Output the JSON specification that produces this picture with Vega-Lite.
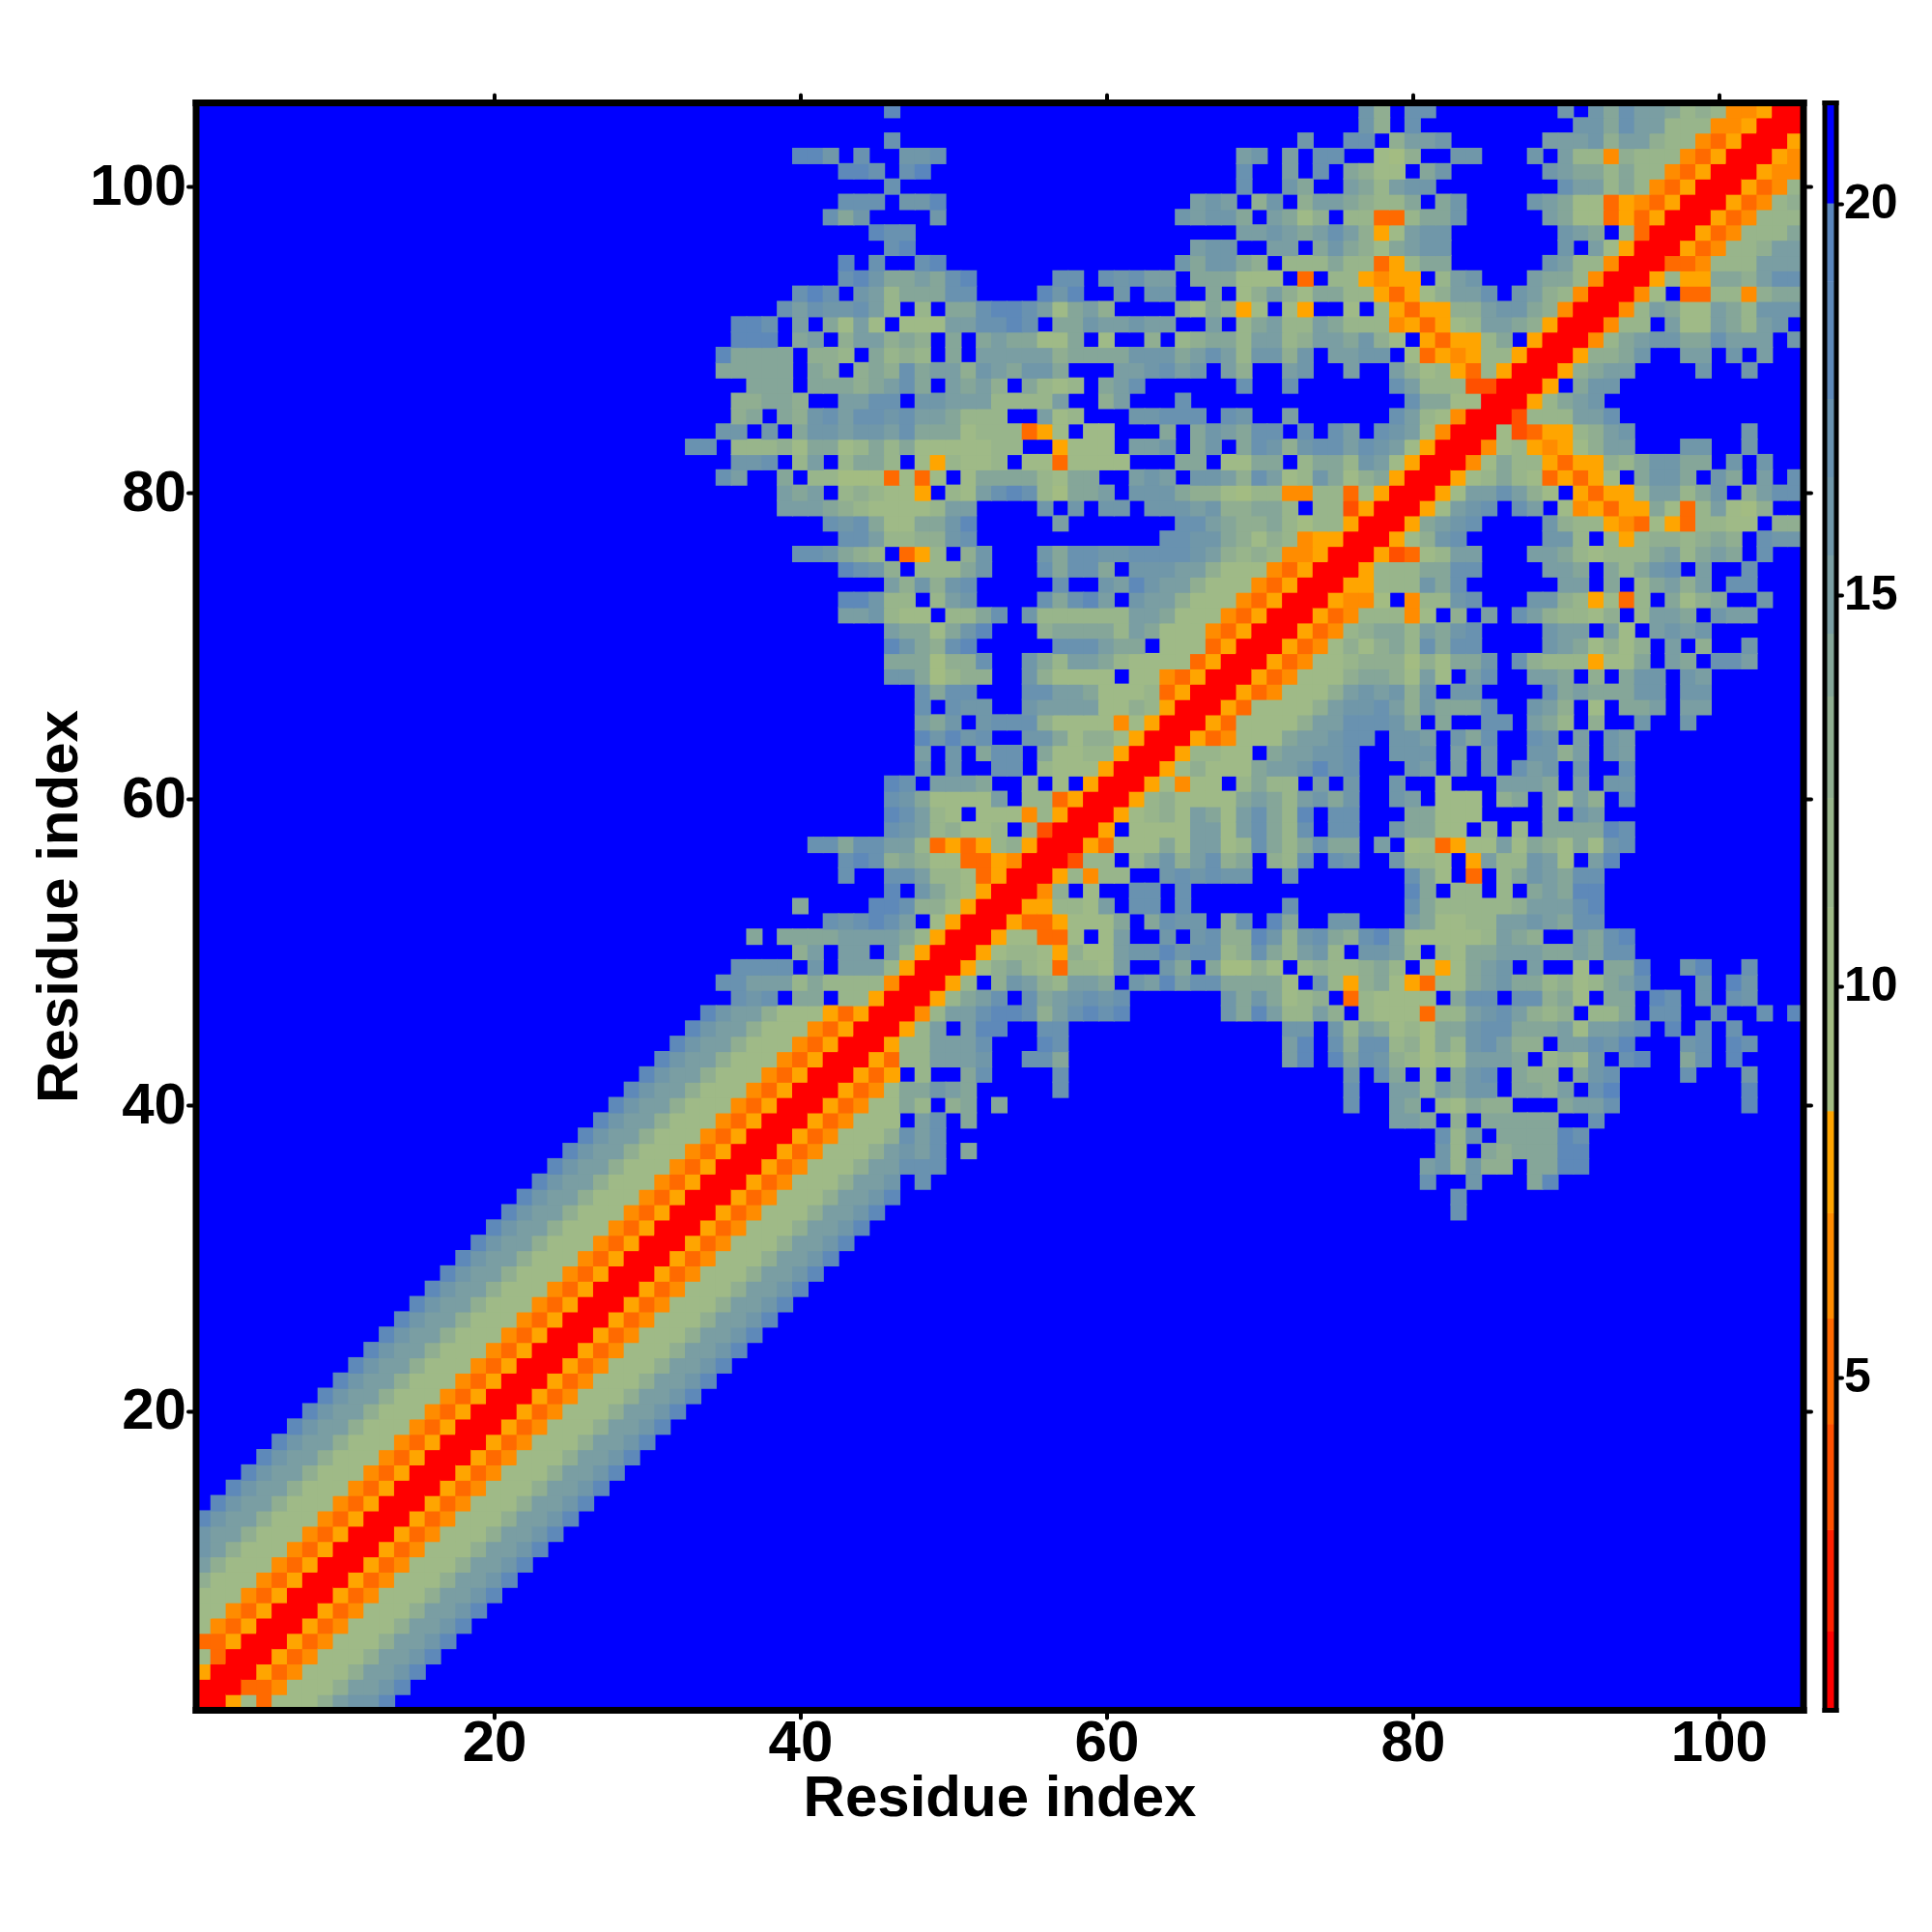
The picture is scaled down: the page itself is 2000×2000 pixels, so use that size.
{"$schema":"https://vega.github.io/schema/vega-lite/v6.json","background":"white","padding":{"left":30.5,"top":96,"right":0,"bottom":0},"spacing":12,"config":{"view":{"stroke":null},"axis":{"labelFont":"Liberation Sans","titleFont":"Liberation Sans","labelFontWeight":"bold","titleFontWeight":"bold","labelColor":"black","titleColor":"black","tickColor":"black","domainColor":"black","tickCap":"round","grid":false}},"hconcat":[{"width":1664,"height":1664,"view":{"fill":"#0000ff","stroke":null},"data":{"values":[
{"b":1,"a":[1],"v":[1]},
{"b":2,"a":[1,2],"v":[1,1]},
{"b":3,"a":[1,2,3],"v":[8,1,1]},
{"b":4,"a":[1,2,3,4],"v":[10,5,1,1]},
{"b":5,"a":[1,2,3,4,5],"v":[5,5,8,1,1]},
{"b":6,"a":[1,2,3,4,5,6],"v":[10,6,5,8,1,1]},
{"b":7,"a":[1,2,3,4,5,6,7],"v":[10,10,6,5,8,1,1]},
{"b":8,"a":[1,2,3,4,5,6,7,8],"v":[10,10,10,6,5,8,1,1]},
{"b":9,"a":[1,2,3,4,5,6,7,8,9],"v":[13,10,10,10,6,5,8,1,1]},
{"b":10,"a":[1,2,3,4,5,6,7,8,9,10],"v":[15,13,10,10,10,6,5,8,1,1]},
{"b":11,"a":[1,2,3,4,5,6,7,8,9,10,11],"v":[16,15,13,10,10,10,6,5,8,1,1]},
{"b":12,"a":[1,2,3,4,5,6,7,8,9,10,11,12],"v":[16,15,15,13,10,10,10,6,5,8,1,1]},
{"b":13,"a":[1,2,3,4,5,6,7,8,9,10,11,12,13],"v":[18,16,15,15,13,10,10,10,6,5,8,1,1]},
{"b":14,"a":[2,3,4,5,6,7,8,9,10,11,12,13,14],"v":[18,16,15,15,13,10,10,10,6,5,8,1,1]},
{"b":15,"a":[3,4,5,6,7,8,9,10,11,12,13,14,15],"v":[18,16,15,15,13,10,10,10,6,5,8,1,1]},
{"b":16,"a":[4,5,6,7,8,9,10,11,12,13,14,15,16],"v":[18,16,15,15,13,10,10,10,6,5,8,1,1]},
{"b":17,"a":[5,6,7,8,9,10,11,12,13,14,15,16,17],"v":[18,16,15,15,13,10,10,10,6,5,8,1,1]},
{"b":18,"a":[6,7,8,9,10,11,12,13,14,15,16,17,18],"v":[18,16,15,15,13,10,10,10,6,5,8,1,1]},
{"b":19,"a":[7,8,9,10,11,12,13,14,15,16,17,18,19],"v":[18,16,15,15,13,10,10,10,6,5,8,1,1]},
{"b":20,"a":[8,9,10,11,12,13,14,15,16,17,18,19,20],"v":[18,16,15,15,13,10,10,10,6,5,8,1,1]},
{"b":21,"a":[9,10,11,12,13,14,15,16,17,18,19,20,21],"v":[18,16,15,15,13,10,10,10,6,5,8,1,1]},
{"b":22,"a":[10,11,12,13,14,15,16,17,18,19,20,21,22],"v":[18,16,15,15,13,10,10,10,6,5,8,1,1]},
{"b":23,"a":[11,12,13,14,15,16,17,18,19,20,21,22,23],"v":[18,16,15,15,13,10,10,10,6,5,8,1,1]},
{"b":24,"a":[12,13,14,15,16,17,18,19,20,21,22,23,24],"v":[18,16,15,15,13,10,10,10,6,5,8,1,1]},
{"b":25,"a":[13,14,15,16,17,18,19,20,21,22,23,24,25],"v":[18,16,15,15,13,10,10,10,6,5,8,1,1]},
{"b":26,"a":[14,15,16,17,18,19,20,21,22,23,24,25,26],"v":[18,16,15,15,13,10,10,10,6,5,8,1,1]},
{"b":27,"a":[15,16,17,18,19,20,21,22,23,24,25,26,27],"v":[18,16,15,15,13,10,10,10,6,5,8,1,1]},
{"b":28,"a":[16,17,18,19,20,21,22,23,24,25,26,27,28],"v":[18,16,15,15,13,10,10,10,6,5,8,1,1]},
{"b":29,"a":[17,18,19,20,21,22,23,24,25,26,27,28,29],"v":[18,16,15,15,13,10,10,10,6,5,8,1,1]},
{"b":30,"a":[18,19,20,21,22,23,24,25,26,27,28,29,30],"v":[18,16,15,15,13,10,10,10,6,5,8,1,1]},
{"b":31,"a":[19,20,21,22,23,24,25,26,27,28,29,30,31],"v":[18,16,15,15,13,10,10,10,6,5,8,1,1]},
{"b":32,"a":[20,21,22,23,24,25,26,27,28,29,30,31,32],"v":[18,16,15,15,13,10,10,10,6,5,8,1,1]},
{"b":33,"a":[21,22,23,24,25,26,27,28,29,30,31,32,33],"v":[18,16,15,15,13,10,10,10,6,5,8,1,1]},
{"b":34,"a":[22,23,24,25,26,27,28,29,30,31,32,33,34],"v":[18,16,15,15,13,10,10,10,6,5,8,1,1]},
{"b":35,"a":[23,24,25,26,27,28,29,30,31,32,33,34,35],"v":[18,16,15,15,13,10,10,10,6,5,8,1,1]},
{"b":36,"a":[24,25,26,27,28,29,30,31,32,33,34,35,36],"v":[18,16,15,15,13,10,10,10,6,5,8,1,1]},
{"b":37,"a":[25,26,27,28,29,30,31,32,33,34,35,36,37],"v":[18,16,15,15,13,10,10,10,6,5,8,1,1]},
{"b":38,"a":[26,27,28,29,30,31,32,33,34,35,36,37,38],"v":[18,16,15,15,13,10,10,10,6,5,8,1,1]},
{"b":39,"a":[27,28,29,30,31,32,33,34,35,36,37,38,39],"v":[18,16,15,15,13,10,10,10,6,5,8,1,1]},
{"b":40,"a":[28,29,30,31,32,33,34,35,36,37,38,39,40],"v":[18,16,15,15,13,10,10,10,6,5,8,1,1]},
{"b":41,"a":[29,30,31,32,33,34,35,36,37,38,39,40,41],"v":[18,16,15,15,13,10,10,10,6,5,8,1,1]},
{"b":42,"a":[30,31,32,33,34,35,36,37,38,39,40,41,42],"v":[18,16,15,15,13,10,10,10,6,5,8,1,1]},
{"b":43,"a":[31,32,33,34,35,36,37,38,39,40,41,42,43],"v":[18,16,15,15,13,10,10,10,6,5,8,1,1]},
{"b":44,"a":[32,33,34,35,36,37,38,39,40,41,42,43,44],"v":[18,16,15,15,13,10,10,10,6,5,8,1,1]},
{"b":45,"a":[33,34,35,36,37,38,39,40,41,42,43,44,45],"v":[18,16,15,15,13,10,10,10,6,5,8,1,1]},
{"b":46,"a":[34,35,36,37,38,39,40,41,42,43,44,45,46],"v":[18,16,15,15,13,10,10,10,8,5,8,1,1]},
{"b":47,"a":[36,37,38,40,41,43,44,45,46,47],"v":[17,16,17,14,14,11,11,8,1,1]},
{"b":48,"a":[35,36,37,38,39,40,41,42,43,44,45,46,47,48],"v":[17,17,15,15,15,12,14,12,11,11,11,6,1,1]},
{"b":49,"a":[36,37,38,39,41,43,44,45,46,47,48,49],"v":[17,17,17,17,16,15,15,15,11,8,1,1]},
{"b":50,"a":[40,41,43,44,46,47,48,49,50],"v":[13,15,15,15,15,11,8,1,1]},
{"b":51,"a":[37,39,40,41,42,43,44,45,46,47,48,49,50,51],"v":[14,14,14,14,14,15,15,15,15,14,11,8,1,1]},
{"b":52,"a":[42,43,44,45,46,47,49,50,51,52],"v":[17,16,17,18,17,15,10,8,1,1]},
{"b":53,"a":[40,45,46,47,48,49,50,51,52,53],"v":[14,18,18,17,13,13,10,8,1,1]},
{"b":54,"a":[46,48,49,50,51,52,53,54],"v":[18,16,14,12,10,8,1,1]},
{"b":55,"a":[43,46,47,48,49,50,51,52,53,54,55],"v":[17,17,17,15,11,12,10,5,8,1,1]},
{"b":56,"a":[43,44,45,46,47,48,49,50,51,52,53,54,55,56],"v":[17,18,17,13,14,13,10,10,5,5,8,6,1,1]},
{"b":57,"a":[41,42,43,44,45,46,47,48,49,50,51,52,53,54,55,56,57],"v":[17,17,14,17,17,15,15,11,5,8,5,8,11,13,8,1,1]},
{"b":58,"a":[46,47,48,49,50,51,52,53,55,56,57,58],"v":[17,16,15,11,13,10,10,11,11,4,1,1]},
{"b":59,"a":[46,47,48,49,50,52,53,54,55,56,57,58,59],"v":[18,17,15,11,10,10,10,10,6,11,8,1,1]},
{"b":60,"a":[46,47,48,49,50,51,52,53,55,56,57,58,59,60],"v":[17,16,14,10,10,10,10,15,12,11,5,8,1,1]},
{"b":61,"a":[46,47,49,50,51,52,55,57,59,60,61],"v":[18,17,15,15,15,14,12,10,8,1,1]},
{"b":62,"a":[48,50,53,54,56,57,58,59,60,61,62],"v":[16,16,17,17,11,10,10,10,8,1,1]},
{"b":63,"a":[48,50,52,53,54,56,57,58,59,60,61,62,63],"v":[15,16,14,17,17,14,10,10,11,11,8,1,1]},
{"b":64,"a":[48,49,50,51,52,55,56,57,58,59,60,61,62,63,64],"v":[18,16,18,16,17,16,16,14,10,13,13,10,8,1,1]},
{"b":65,"a":[48,49,50,52,53,54,55,56,57,58,59,60,61,62,63,64,65],"v":[15,14,16,16,17,17,17,13,10,10,10,10,6,10,8,1,1]},
{"b":66,"a":[48,50,51,52,55,56,57,58,59,60,61,62,63,64,65,66],"v":[17,17,16,16,16,15,15,15,15,10,10,13,11,8,1,1]},
{"b":67,"a":[48,49,50,51,55,56,57,58,59,60,61,62,63,64,65,66,67],"v":[17,14,17,17,17,17,15,15,14,10,10,10,11,5,8,1,1]},
{"b":68,"a":[46,47,48,49,50,51,52,55,56,57,58,59,60,62,63,64,65,66,67,68],"v":[16,16,14,9,12,13,13,16,13,10,10,10,10,10,10,6,5,8,1,1]},
{"b":69,"a":[46,47,48,49,50,51,52,55,56,57,58,59,60,61,62,63,64,65,66,67,68,69],"v":[14,14,14,9,13,13,17,16,14,11,15,15,14,11,10,10,10,10,5,8,1,1]},
{"b":70,"a":[46,47,48,49,50,51,57,58,59,60,61,62,64,65,66,67,68,69,70],"v":[18,16,14,13,17,18,17,17,17,15,14,14,10,10,10,5,8,1,1]},
{"b":71,"a":[46,47,48,49,50,51,52,56,57,58,59,60,61,62,63,64,65,66,67,68,69,70,71],"v":[15,14,14,10,14,16,18,13,14,14,14,14,11,15,14,10,10,10,6,5,8,1,1]},
{"b":72,"a":[43,44,45,46,47,48,50,51,52,53,55,56,57,58,59,60,61,62,63,64,65,66,67,68,69,70,71,72],"v":[15,15,16,11,10,10,11,11,14,17,16,12,11,12,12,11,11,15,15,14,10,10,10,6,5,8,1,1]},
{"b":73,"a":[43,44,45,46,47,49,50,51,56,57,58,59,60,62,63,64,65,66,67,68,69,70,71,72,73],"v":[18,18,16,12,12,11,15,16,17,14,17,18,15,16,15,15,13,10,10,10,6,5,8,1,1]},
{"b":74,"a":[46,47,48,49,50,51,57,60,61,62,63,64,65,66,67,68,69,70,71,72,73,74],"v":[15,13,16,13,16,17,17,16,15,18,16,15,15,13,10,10,10,6,5,8,1,1]},
{"b":75,"a":[43,44,45,46,48,49,50,51,52,56,57,58,59,60,62,63,64,65,66,67,68,69,70,71,72,73,74,75],"v":[18,17,16,13,11,11,12,14,16,17,14,17,17,14,16,16,16,15,15,13,10,10,10,6,5,8,1,1]},
{"b":76,"a":[40,41,42,43,44,45,47,48,49,51,52,56,57,58,59,60,61,62,63,64,65,66,67,68,69,70,71,72,73,74,75,76],"v":[17,17,16,14,13,12,5,8,12,13,16,16,14,17,17,16,16,17,17,17,17,16,15,13,11,13,11,6,7,8,1,1]},
{"b":77,"a":[43,44,45,46,47,48,49,50,51,64,65,66,67,68,69,70,71,72,73,74,75,76,77],"v":[17,17,15,11,11,13,13,16,17,17,17,16,16,14,13,10,13,11,6,8,8,1,1]},
{"b":78,"a":[42,43,44,45,46,47,48,49,50,51,57,65,66,67,68,69,70,71,72,73,74,75,76,77,78],"v":[17,16,17,14,10,10,14,14,16,18,15,17,17,15,14,13,13,14,11,9,11,11,8,1,1]},
{"b":79,"a":[39,40,41,42,43,44,45,46,47,48,49,50,51,56,58,60,61,63,64,65,66,67,68,69,70,71,72,74,75,76,77,78,79],"v":[15,15,15,14,13,11,10,10,10,10,11,15,15,16,16,16,16,16,16,16,15,16,13,13,14,14,11,11,11,4,8,1,1]},
{"b":80,"a":[39,40,41,43,44,45,46,47,48,50,51,52,53,54,55,56,57,58,59,60,62,63,64,65,66,67,68,69,70,71,72,73,74,75,76,77,78,79,80],"v":[15,14,15,12,13,12,10,10,8,11,10,15,17,18,17,11,9,14,14,15,16,16,16,14,13,13,10,9,11,11,6,6,11,11,5,10,8,1,1]},
{"b":81,"a":[35,36,39,41,42,43,44,45,46,47,48,49,51,52,53,54,55,56,57,58,59,62,63,64,66,67,68,69,70,71,72,73,74,75,76,77,78,79,80,81],"v":[17,15,14,12,12,9,9,9,5,10,5,10,10,14,14,14,14,12,10,14,14,15,16,15,16,16,15,13,17,15,10,12,16,14,10,13,14,8,1,1]},
{"b":82,"a":[36,37,38,40,41,43,44,45,46,48,49,50,51,52,53,55,56,57,58,59,60,61,65,66,68,69,70,71,73,74,75,76,77,78,79,80,81,82],"v":[16,16,17,12,15,11,14,14,11,10,8,12,10,10,12,10,10,5,10,10,10,10,14,14,10,10,14,14,11,14,14,11,16,15,10,8,1,1]},
{"b":83,"a":[33,34,36,37,38,39,40,41,42,43,44,45,46,47,48,49,50,51,52,53,54,57,58,59,60,62,63,64,66,67,69,70,71,72,73,74,75,76,77,78,79,80,81,82,83],"v":[17,17,12,12,12,13,10,14,14,10,11,14,11,14,10,10,10,10,10,11,11,8,10,10,10,15,15,16,14,16,14,17,16,13,16,17,17,15,17,16,15,10,8,1,1]},
{"b":84,"a":[35,36,38,40,41,42,43,44,45,46,47,48,49,50,51,52,53,54,55,56,57,59,60,64,66,67,68,69,70,71,73,75,76,78,79,80,81,82,83,84],"v":[16,16,16,14,16,16,15,16,16,15,17,14,14,14,10,12,12,11,5,8,10,10,10,14,14,16,15,14,17,17,17,17,15,17,16,15,10,6,1,1]},
{"b":85,"a":[36,37,39,40,41,42,43,44,45,46,47,48,49,50,51,52,53,56,57,58,62,63,64,65,66,68,69,72,79,80,81,82,83,84,85],"v":[13,14,14,13,16,17,15,17,17,16,17,15,15,14,11,11,11,15,10,11,16,16,17,17,17,17,16,15,17,15,11,10,7,1,1]},
{"b":86,"a":[36,37,38,39,40,43,44,45,46,48,49,50,51,52,53,54,55,56,57,60,61,65,80,81,82,83,84,85,86],"v":[13,13,14,14,13,15,15,17,17,16,16,15,15,15,12,12,12,12,15,13,15,17,17,14,14,10,10,1,1]},
{"b":87,"a":[37,38,39,41,42,43,44,45,46,47,48,50,51,52,53,55,56,57,58,60,61,62,69,72,79,80,81,82,83,84,85,86,87],"v":[14,14,14,14,14,14,13,14,15,17,14,15,14,15,13,14,11,10,12,14,15,17,17,17,17,15,11,11,11,4,4,1,1]},
{"b":88,"a":[35,36,37,38,39,41,42,44,45,46,47,48,49,50,51,52,53,54,55,56,57,61,62,63,64,65,66,68,69,72,73,76,79,80,81,82,83,84,85,86,87,88],"v":[14,14,14,14,14,14,13,13,14,13,17,14,15,15,13,16,15,14,16,16,14,15,15,16,17,15,16,15,13,15,16,15,15,13,10,11,8,5,11,8,1,1]},
{"b":89,"a":[35,36,37,38,39,41,42,43,45,46,47,48,50,52,53,54,55,56,57,58,59,60,61,62,63,64,65,66,67,68,69,70,71,72,73,75,76,77,78,80,81,82,83,84,85,86,87,88,89],"v":[18,14,14,14,14,13,13,11,14,11,13,12,14,15,15,15,15,15,13,14,14,14,14,16,16,16,14,15,17,15,11,16,16,13,16,15,15,16,16,10,5,8,6,8,11,11,8,1,1]},
{"b":90,"a":[36,37,38,40,41,43,44,45,46,47,48,50,52,53,54,55,56,57,58,60,63,65,66,67,68,69,70,71,72,73,74,75,76,77,78,79,81,82,83,84,85,86,88,89,90],"v":[18,18,18,14,15,13,15,15,13,14,13,14,14,15,14,14,10,10,14,10,13,11,13,14,14,11,15,15,11,13,15,15,14,16,13,10,8,5,8,8,11,14,8,1,1]},
{"b":91,"a":[36,37,38,40,42,43,44,45,47,48,49,50,51,52,53,54,55,57,58,59,60,61,62,63,64,67,69,70,71,72,73,74,75,76,77,78,79,80,81,82,83,84,85,86,87,88,89,90,91],"v":[18,18,17,15,14,10,15,10,10,10,10,15,15,17,17,18,17,14,14,16,15,15,16,15,15,15,11,14,15,11,11,15,14,11,11,11,6,8,5,8,10,12,15,15,14,13,8,1,1]},
{"b":92,"a":[39,40,41,42,43,44,45,46,48,50,51,52,53,54,55,56,57,58,59,60,65,66,67,68,69,70,72,73,76,78,79,80,81,82,83,84,85,86,87,88,89,90,91,92],"v":[17,15,17,16,16,17,15,11,11,14,14,17,18,18,17,15,10,14,15,13,13,10,14,13,8,10,10,8,10,11,8,5,8,8,13,13,15,16,16,14,13,6,1,1]},
{"b":93,"a":[40,41,42,44,45,46,47,48,49,50,51,56,57,58,61,63,64,67,69,70,71,72,73,74,75,76,77,78,79,80,81,82,83,84,85,87,88,89,90,91,92,93],"v":[17,19,17,16,15,11,14,14,14,17,17,18,16,18,16,16,16,14,10,13,15,13,10,14,14,11,11,8,5,8,10,13,15,15,17,16,15,13,11,7,1,1]},
{"b":94,"a":[43,44,45,46,47,48,49,50,51,57,58,60,61,62,63,64,66,67,68,69,70,71,73,75,76,77,78,79,80,82,83,84,88,89,90,91,92,93,94],"v":[17,18,16,14,14,15,14,17,18,17,17,17,16,17,15,15,14,14,14,10,10,10,5,11,11,8,6,8,8,11,15,16,15,14,14,11,6,1,1]},
{"b":95,"a":[43,45,48,49,65,66,67,68,69,70,72,73,74,75,76,77,78,79,80,81,82,89,90,91,92,93,94,95],"v":[18,17,17,18,16,14,16,16,14,13,12,11,12,14,11,11,5,8,11,14,14,16,15,11,11,7,1,1]},
{"b":96,"a":[46,47,66,67,68,71,72,74,75,76,77,78,79,80,81,82,90,92,93,94,95,96],"v":[17,18,15,16,16,15,15,14,16,14,13,10,14,15,16,16,16,15,10,8,1,1]},
{"b":97,"a":[45,46,47,69,70,71,72,73,74,75,76,77,78,79,80,81,82,90,91,92,94,95,96,97],"v":[18,17,17,15,15,16,15,14,15,17,15,13,8,10,15,16,16,16,15,14,11,5,1,1]},
{"b":98,"a":[42,43,44,49,65,66,67,68,69,71,72,73,74,76,77,78,79,80,81,82,83,89,90,91,92,93,94,95,96,97,98],"v":[17,14,16,16,16,15,16,16,14,15,14,10,13,11,11,5,5,11,14,14,16,15,14,10,10,5,8,5,8,1,1]},
{"b":99,"a":[43,44,45,47,48,49,66,67,68,70,71,73,74,75,76,77,78,79,80,82,83,88,89,90,91,92,93,94,95,96,97,98,99],"v":[17,17,17,16,16,18,15,16,15,13,16,13,15,15,14,13,11,11,14,14,16,16,15,14,10,10,5,8,6,5,8,1,1]},
{"b":100,"a":[46,69,72,73,76,77,78,79,80,81,90,91,92,93,94,95,96,97,98,99,100],"v":[17,17,16,14,15,14,11,15,16,16,17,15,15,11,14,11,6,5,8,1,1]},
{"b":101,"a":[43,44,45,47,48,69,72,74,76,77,78,79,81,82,89,90,91,92,93,94,95,96,97,98,99,100,101],"v":[18,18,17,17,19,17,15,17,14,13,10,10,14,16,16,15,14,14,11,14,11,11,6,5,8,1,1]},
{"b":102,"a":[40,41,42,44,47,48,49,69,70,72,74,75,78,79,80,83,84,88,90,91,92,93,94,95,96,97,98,99,100,101,102],"v":[18,18,16,17,16,16,17,15,16,15,17,17,10,9,13,16,16,16,15,11,11,6,13,11,11,11,6,5,8,1,1]},
{"b":103,"a":[46,73,76,77,79,80,81,82,89,90,91,92,93,94,95,96,97,98,99,100,101,102,103],"v":[17,16,17,17,13,15,15,16,15,15,15,16,13,15,15,13,12,12,6,5,8,1,1]},
{"b":104,"a":[77,78,80,91,92,93,94,95,96,97,98,99,100,101,102,103,104],"v":[16,13,17,16,16,14,17,15,15,11,11,11,6,6,8,1,1]},
{"b":105,"a":[46,77,78,80,81,90,92,93,94,95,96,97,98,99,100,101,102,103,104,105],"v":[18,16,13,17,17,16,16,14,17,15,15,14,12,13,11,6,6,8,1,1]}
]},"transform":[{"flatten":["a","v"]}],"resolve":{"axis":{"x":"independent","y":"independent"}},"layer":[{"mark":{"type":"rect","width":17,"height":17},"encoding":{"x":{"field":"a","type":"quantitative","scale":{"domain":[0.5,105.5],"nice":false,"zero":false},"axis":{"orient":"bottom","values":[20,40,60,80,100],"title":"Residue index","titleFontSize":60,"titlePadding":-2,"labelFontSize":60,"labelPadding":-3,"tickSize":8,"tickWidth":4,"domainWidth":7,"domainCap":"square","zindex":1,"format":"d"}},"y":{"field":"b","type":"quantitative","scale":{"domain":[0.5,105.5],"nice":false,"zero":false},"axis":{"orient":"left","values":[20,40,60,80,100],"title":"Residue index","titleFontSize":60,"titlePadding":0,"labelFontSize":60,"labelPadding":2,"tickSize":8,"tickWidth":4,"domainWidth":7,"domainCap":"square","zindex":1,"format":"d"}},"color":{"field":"v","type":"quantitative","legend":null,"scale":{"type":"threshold","domain":[1.75,3.05,4.4,5.75,7.1,8.4,9.7,11,12.4,13.7,14.5,15.5,16.5,17.5,19,20],"range":["#ff0000","#ff2000","#ff5000","#ff6a00","#ff8c00","#ffa500","#a3bc82","#9fba87","#98b58b","#90ae91","#85a699","#7a9ea3","#7097a9","#6992b0","#5e89b9","#5a86bd","#0000ff"]}}}},{"mark":{"type":"rect","width":17,"height":17},"encoding":{"x":{"field":"b","type":"quantitative","scale":{"domain":[0.5,105.5],"nice":false,"zero":false},"axis":{"orient":"top","values":[20,40,60,80,100],"title":null,"labels":false,"tickSize":8,"tickWidth":4,"domainWidth":7,"domainCap":"square","zindex":1}},"y":{"field":"a","type":"quantitative","scale":{"domain":[0.5,105.5],"nice":false,"zero":false},"axis":{"orient":"right","values":[20,40,60,80,100],"title":null,"labels":false,"tickSize":8,"tickWidth":4,"domainWidth":7,"domainCap":"square","zindex":1}},"color":{"field":"v","type":"quantitative","legend":null,"scale":{"type":"threshold","domain":[1.75,3.05,4.4,5.75,7.1,8.4,9.7,11,12.4,13.7,14.5,15.5,16.5,17.5,19,20],"range":["#ff0000","#ff2000","#ff5000","#ff6a00","#ff8c00","#ffa500","#a3bc82","#9fba87","#98b58b","#90ae91","#85a699","#7a9ea3","#7097a9","#6992b0","#5e89b9","#5a86bd","#0000ff"]}}}}]},
{"width":12,"height":1664,"data":{"values":[{"k":"bar","lo":0.75,"hi":1.75,"v":1},{"k":"bar","lo":1.75,"hi":3.05,"v":2.4},{"k":"bar","lo":3.05,"hi":4.4,"v":4},{"k":"bar","lo":4.4,"hi":5.75,"v":5},{"k":"bar","lo":5.75,"hi":7.1,"v":6},{"k":"bar","lo":7.1,"hi":8.4,"v":8},{"k":"bar","lo":8.4,"hi":9.7,"v":9},{"k":"bar","lo":9.7,"hi":11,"v":10},{"k":"bar","lo":11,"hi":12.4,"v":12},{"k":"bar","lo":12.4,"hi":13.7,"v":13},{"k":"bar","lo":13.7,"hi":14.5,"v":14},{"k":"bar","lo":14.5,"hi":15.5,"v":15},{"k":"bar","lo":15.5,"hi":16.5,"v":16},{"k":"bar","lo":16.5,"hi":17.5,"v":17},{"k":"bar","lo":17.5,"hi":19,"v":18},{"k":"bar","lo":19,"hi":20,"v":19.5},{"k":"bar","lo":20,"hi":21.29,"v":21}]},"resolve":{"axis":{"x":"independent","y":"independent"}},"layer":[{"mark":{"type":"rect"},"encoding":{"x":{"field":"k","type":"nominal","scale":{"paddingInner":0,"paddingOuter":0},"axis":{"orient":"bottom","title":null,"labels":false,"ticks":false,"domainWidth":5,"domainCap":"square","zindex":1}},"y":{"field":"lo","type":"quantitative","scale":{"domain":[0.75,21.29],"nice":false,"zero":false},"axis":{"orient":"right","values":[5,10,15,20],"title":null,"labelFontSize":50,"labelPadding":2,"tickSize":6,"tickWidth":4,"domainWidth":5,"domainCap":"square","zindex":1,"format":"d"}},"y2":{"field":"hi"},"color":{"field":"v","type":"quantitative","legend":null,"scale":{"type":"threshold","domain":[1.75,3.05,4.4,5.75,7.1,8.4,9.7,11,12.4,13.7,14.5,15.5,16.5,17.5,19,20],"range":["#ff0000","#ff2000","#ff5000","#ff6a00","#ff8c00","#ffa500","#a3bc82","#9fba87","#98b58b","#90ae91","#85a699","#7a9ea3","#7097a9","#6992b0","#5e89b9","#5a86bd","#0000ff"]}}}},{"mark":{"type":"rect"},"encoding":{"x":{"field":"k","type":"nominal","scale":{"paddingInner":0,"paddingOuter":0},"axis":{"orient":"top","title":null,"labels":false,"ticks":false,"domainWidth":5,"domainCap":"square","zindex":1}},"y":{"field":"lo","type":"quantitative","scale":{"domain":[0.75,21.29],"nice":false,"zero":false},"axis":{"orient":"left","title":null,"labels":false,"ticks":false,"domainWidth":5,"domainCap":"square","zindex":1}},"y2":{"field":"hi"},"color":{"field":"v","type":"quantitative","legend":null,"scale":{"type":"threshold","domain":[1.75,3.05,4.4,5.75,7.1,8.4,9.7,11,12.4,13.7,14.5,15.5,16.5,17.5,19,20],"range":["#ff0000","#ff2000","#ff5000","#ff6a00","#ff8c00","#ffa500","#a3bc82","#9fba87","#98b58b","#90ae91","#85a699","#7a9ea3","#7097a9","#6992b0","#5e89b9","#5a86bd","#0000ff"]}}}}]}]}
